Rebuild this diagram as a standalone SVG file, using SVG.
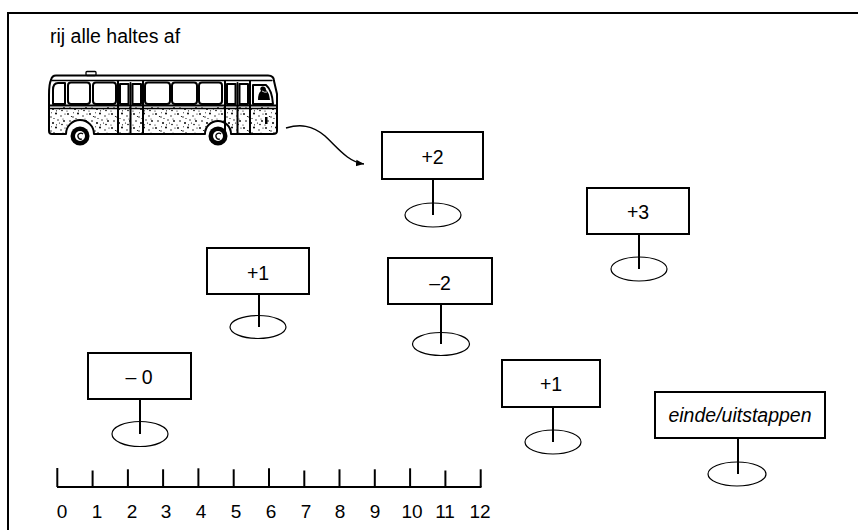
<svg xmlns="http://www.w3.org/2000/svg" width="858" height="530" viewBox="0 0 858 530">
<style>
  .frame{fill:none;stroke:#000;stroke-width:2}
  .stop rect{fill:#fff;stroke:#000;stroke-width:2}
  .stop line{stroke:#000;stroke-width:2}
  .stop ellipse{fill:none;stroke:#000;stroke-width:1.2}
  text{font-family:"Liberation Sans",Arial,Helvetica,sans-serif;font-size:19.5px;fill:#000}
  .stop text{text-anchor:middle}
  .it{font-style:italic}
  .axis line{stroke:#000;stroke-width:2}
  .axis text{text-anchor:middle;font-size:19px}
  .ln{fill:none;stroke:#000;stroke-width:2;stroke-linejoin:round;stroke-linecap:round}
  .thin{fill:none;stroke:#000;stroke-width:1.3;stroke-linecap:round}
  .conn{fill:none;stroke:#000;stroke-width:1.5}
</style>
<defs>
  <marker id="head" markerUnits="userSpaceOnUse" markerWidth="10" markerHeight="10" refX="8" refY="4" orient="auto">
    <path d="M0 0.8 L8 4 L0 7.2 Z" fill="#000"/>
  </marker>
  <!-- stippled texture for the lower bodywork -->
  <pattern id="speck" width="22" height="14" patternUnits="userSpaceOnUse">
    <circle cx="2" cy="2" r="0.9"/><circle cx="7" cy="5" r="0.7"/><circle cx="12" cy="1.5" r="1"/>
    <circle cx="17" cy="4" r="0.7"/><circle cx="20" cy="9" r="0.9"/><circle cx="4" cy="9" r="0.8"/>
    <circle cx="9" cy="11" r="1"/><circle cx="14" cy="8" r="0.7"/><circle cx="18" cy="12.5" r="0.8"/>
    <circle cx="1" cy="13" r="0.6"/><circle cx="10" cy="6.5" r="0.6"/><circle cx="15.5" cy="11" r="0.6"/>
    <circle cx="5.5" cy="4.5" r="0.6"/><circle cx="21" cy="2" r="0.6"/><circle cx="12.5" cy="12.8" r="0.6"/>
    <circle cx="19" cy="7" r="0.5"/><circle cx="7.5" cy="0.8" r="0.5"/>
  </pattern>
</defs>

<path class="frame" d="M8 530 V13 H858"/>
<text x="50" y="43">rij alle haltes af</text>

<g id="bus">
  <!-- stippled lower body -->
  <path d="M49 107 H277 V131 Q277 134 273 134 H231 A13 13 0 0 0 205 134 H94 A14 14 0 0 0 66 134 H52 Q49 134 49 131 Z" fill="url(#speck)"/>
  <!-- outline -->
  <path class="ln" d="M49 131 V95 Q49 84 51 80 Q52 75.5 56 75.5 H268 Q274 75.5 274 81 L277 94 V131 Q277 134 273 134 H231 A13 13 0 0 0 205 134 H94 A14 14 0 0 0 66 134 H52 Q49 134 49 131 Z"/>
  <path class="thin" d="M52 80.5 H272"/>
  <rect x="86" y="71.5" width="10" height="4" rx="1" class="thin"/>
  <!-- belt line -->
  <path class="ln" d="M49 105.5 H277"/>
  <path class="thin" d="M49 108.5 H277"/>
  <!-- windows -->
  <g class="ln">
    <path d="M53 104 V90 Q53 83 58 83 H65 V104 Z"/>
    <rect x="68" y="82.5" width="22" height="21.5" rx="3"/>
    <rect x="93" y="82.5" width="23" height="21.5" rx="3"/>
    <rect x="145" y="82.5" width="25" height="21.5" rx="3"/>
    <rect x="172" y="82.5" width="25" height="21.5" rx="3"/>
    <rect x="199" y="82.5" width="23" height="21.5" rx="3"/>
    <path d="M253 104 V85 H266 Q272 90 273 104 Z"/>
  </g>
  <!-- doors -->
  <g class="ln">
    <path d="M118 81 V134 M143 81 V134 M130.5 83 V134"/>
    <rect x="120" y="84" width="8.5" height="20"/>
    <rect x="132.5" y="84" width="8.5" height="20"/>
    <path d="M225 81 V134 M250 81 V134 M237.5 83 V134"/>
    <rect x="227" y="84" width="8.5" height="20"/>
    <rect x="239.5" y="84" width="8.5" height="20"/>
  </g>
  <!-- driver -->
  <path d="M258 100 Q258 93 261 91 Q259 88 262 86.5 Q266 86 266 90 Q269 92 270 100 Z" fill="#000"/>
  <path d="M262 91 Q265 93 267 92" stroke="#fff" stroke-width="0.8" fill="none"/>
  <rect x="265" y="117" width="2.5" height="7" fill="#000"/>
  <!-- wheels -->
  <g>
    <circle cx="80" cy="136" r="9.5" fill="#000"/>
    <circle cx="80" cy="136" r="5" fill="#fff"/>
    <path d="M83 134 A3 3 0 1 0 82 139" stroke="#000" stroke-width="1.3" fill="none"/>
    <circle cx="218" cy="136" r="9.5" fill="#000"/>
    <circle cx="218" cy="136" r="5" fill="#fff"/>
    <path d="M221 134 A3 3 0 1 0 220 139" stroke="#000" stroke-width="1.3" fill="none"/>
  </g>
</g>

<g id="connectors">
  <path class="conn" d="M286 128 C300 124 312 125 325 136 C338 148 348 162 364 164" marker-end="url(#head)"/>
</g>

<g id="stop-plus2" class="stop">
  <rect x="382" y="132" width="101" height="47"/>
  <line x1="433" y1="179" x2="433" y2="215"/>
  <ellipse cx="433" cy="215" rx="28" ry="12"/>
  <text x="432.5" y="164">+2</text>
</g>
<g id="stop-plus3" class="stop">
  <rect x="587" y="188" width="102" height="46"/>
  <line x1="639" y1="234" x2="639" y2="269"/>
  <ellipse cx="639" cy="269" rx="28" ry="12"/>
  <text x="638" y="219">+3</text>
</g>
<g id="stop-plus1-a" class="stop">
  <rect x="207" y="248" width="102" height="46"/>
  <line x1="259" y1="294" x2="259" y2="327"/>
  <ellipse cx="258" cy="327" rx="28" ry="11.5"/>
  <text x="258" y="280">+1</text>
</g>
<g id="stop-minus2" class="stop">
  <rect x="388" y="258" width="104" height="46"/>
  <line x1="441" y1="304" x2="441" y2="344"/>
  <ellipse cx="441" cy="344" rx="28.5" ry="11.5"/>
  <text x="440" y="290">–2</text>
</g>
<g id="stop-minus0" class="stop">
  <rect x="88" y="353" width="103" height="46"/>
  <line x1="140" y1="399" x2="140" y2="434"/>
  <ellipse cx="140" cy="434" rx="28" ry="12.5"/>
  <text x="139" y="384">– 0</text>
</g>
<g id="stop-plus1-b" class="stop">
  <rect x="502" y="360" width="98" height="47"/>
  <line x1="553" y1="407" x2="553" y2="442"/>
  <ellipse cx="553" cy="442" rx="28" ry="12"/>
  <text x="551" y="391">+1</text>
</g>
<g id="stop-end" class="stop">
  <rect x="655" y="392" width="170" height="46"/>
  <line x1="738" y1="438" x2="738" y2="474"/>
  <ellipse cx="737" cy="474" rx="29" ry="12"/>
  <text x="740" y="422" class="it">einde/uitstappen</text>
</g>

<g id="number-line" class="axis">
  <line x1="57" y1="487" x2="481.5" y2="487"/>
  <line x1="57.3" y1="468" x2="57.3" y2="487"/>
  <line x1="92.6" y1="470.5" x2="92.6" y2="487"/>
  <line x1="127.9" y1="469.3" x2="127.9" y2="487"/>
  <line x1="163.1" y1="469.3" x2="163.1" y2="487"/>
  <line x1="198.4" y1="468.3" x2="198.4" y2="487"/>
  <line x1="233.7" y1="469.3" x2="233.7" y2="487"/>
  <line x1="269" y1="468.3" x2="269" y2="487"/>
  <line x1="304.3" y1="470.5" x2="304.3" y2="487"/>
  <line x1="339.5" y1="469.3" x2="339.5" y2="487"/>
  <line x1="374.8" y1="469.3" x2="374.8" y2="487"/>
  <line x1="410.1" y1="468.3" x2="410.1" y2="487"/>
  <line x1="445.4" y1="470.5" x2="445.4" y2="487"/>
  <line x1="480.7" y1="469.3" x2="480.7" y2="487"/>
  <text x="62" y="518">0</text>
  <text x="97" y="518">1</text>
  <text x="132" y="518">2</text>
  <text x="166" y="518">3</text>
  <text x="201" y="518">4</text>
  <text x="236" y="518">5</text>
  <text x="271" y="518">6</text>
  <text x="306" y="518">7</text>
  <text x="340" y="518">8</text>
  <text x="375" y="518">9</text>
  <text x="412" y="518">10</text>
  <text x="445" y="518">11</text>
  <text x="480" y="518">12</text>
</g>
</svg>
